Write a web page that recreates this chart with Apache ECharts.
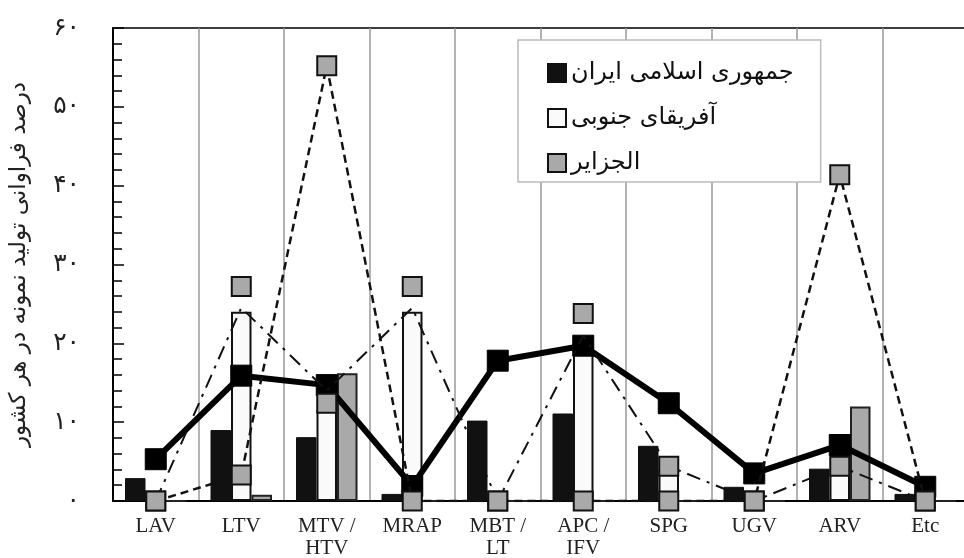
<!DOCTYPE html>
<html>
<head>
<meta charset="utf-8">
<script src="https://cdn.jsdelivr.net/npm/echarts@6/dist/echarts.min.js"></script>
<style>html,body{margin:0;padding:0;background:#fff;}#c{width:964px;height:558px;}</style>
</head>
<body>
<div id="c"></div>
<script>
const categories = ['LAV', 'LTV', 'MTV /\nHTV', 'MRAP', 'MBT /\nLT', 'APC /\nIFV', 'SPG', 'UGV', 'ARV', 'Etc'];
const seriesNames = ['جمهوری اسلامی ایران', 'آفریقای جنوبی', 'الجزایر'];
const iranBars = [2.9, 9.0, 8.1, 0.9, 10.2, 11.1, 7.0, 1.8, 4.1, 0.9];
const southAfricaBars = [0, 24.0, 11.5, 24.0, 0, 20.0, 4.0, 0, 4.0, 0];
const algeriaBars = [0, 0.8, 16.2, 0, 0, 0, 0, 0, 12.0, 0];
const iranLine = [5.3, 15.9, 14.7, 1.9, 17.8, 19.7, 12.4, 3.5, 7.1, 1.8];
const southAfricaLine = [0, 24.5, 14, 24.5, 0, 21, 4.4, 0, 4.4, 0];
const southAfricaMarks = [0, 27.2, 12.4, 27.2, 0, 23.8, 4.4, 0, 4.4, 0];
const algeriaLine = [0, 3.3, 55.2, 0, 0, 0, 0, 0, 41.4, 0];
const yTicks = [0, 10, 20, 30, 40, 50, 60];
const yAxisTitle = 'درصد فراوانی تولید نمونه در هر کشور';

const faDigits = '۰۱۲۳۴۵۶۷۸۹';
const toFa = v => String(v).replace(/[0-9]/g, d => faDigits[+d]);

const chart = echarts.init(document.getElementById('c'), null, {renderer: 'canvas'});
const grayFill = '#a9a9a9';
chart.setOption({
  animation: false,
  backgroundColor: '#fff',
  grid: {left: 113, top: 28, right: -4, bottom: 57, show: true, borderColor: '#000', borderWidth: 1.5,
         containLabel: false, outerBoundsMode: 'none'},
  legend: {
    data: seriesNames,
    orient: 'vertical',
    left: 518, top: 40,
    padding: [21, 27, 7, 29],
    itemGap: 21,
    itemWidth: 18, itemHeight: 18,
    backgroundColor: '#fff',
    borderColor: '#bbb', borderWidth: 1.5,
    icon: 'rect',
    textStyle: {fontFamily: 'DejaVu Sans', fontSize: 24, color: '#111'},
    itemStyle: {borderColor: '#111', borderWidth: 2}
  },
  xAxis: {
    type: 'category',
    data: categories,
    axisLine: {lineStyle: {color: '#000', width: 2}},
    axisTick: {show: false},
    splitLine: {show: true, interval: 0, lineStyle: {color: '#999', width: 1.5}},
    axisLabel: {interval: 0, fontFamily: 'Liberation Serif', fontSize: 21, color: '#222', lineHeight: 22, margin: 14}
  },
  yAxis: {
    type: 'value',
    min: yTicks[0], max: yTicks[yTicks.length - 1], interval: yTicks[1] - yTicks[0],
    name: yAxisTitle,
    nameLocation: 'middle',
    nameRotate: 90,
    nameGap: 82,
    nameTextStyle: {fontFamily: 'DejaVu Sans', fontSize: 23, color: '#222'},
    axisLine: {show: true, lineStyle: {color: '#000', width: 2}},
    axisTick: {show: true, inside: true, length: 11, lineStyle: {color: '#000', width: 1.5}},
    minorTick: {show: true, splitNumber: 5, length: 9, lineStyle: {color: '#000', width: 1.5}},
    splitLine: {show: false},
    axisLabel: {formatter: v => toFa(v), fontFamily: 'DejaVu Sans', fontSize: 25, color: '#222', margin: 33}
  },
  series: [
    {name: seriesNames[0], type: 'bar', data: iranBars, barWidth: 20.5, barGap: '0%', z: 2,
     itemStyle: {color: '#111', borderColor: '#111', borderWidth: 1}},
    {name: seriesNames[1], type: 'bar', data: southAfricaBars, barWidth: 20.5, barGap: '0%', z: 2,
     itemStyle: {color: '#fafafa', borderColor: '#111', borderWidth: 2}},
    {name: seriesNames[2], type: 'bar', data: algeriaBars, barWidth: 20.5, barGap: '0%', z: 2,
     itemStyle: {color: grayFill, borderColor: '#222', borderWidth: 2}},
    {name: 'iranLine', type: 'line', data: iranLine, z: 3,
     symbol: 'rect', symbolSize: 21, showAllSymbol: true,
     lineStyle: {color: '#000', width: 6},
     itemStyle: {color: '#000', borderColor: '#000', borderWidth: 1}},
    {name: 'saLine', type: 'line', data: southAfricaLine, z: 4,
     symbol: 'none',
     lineStyle: {color: '#111', width: 2, type: [14, 7, 3, 7]}},
    {name: 'algLine', type: 'line', data: algeriaLine, z: 5,
     symbol: 'rect', symbolSize: 19, showAllSymbol: true,
     lineStyle: {color: '#111', width: 2.5, type: [8, 5]},
     itemStyle: {color: grayFill, borderColor: '#111', borderWidth: 2}},
    {name: 'saMarks', type: 'scatter', data: southAfricaMarks, z: 6,
     symbol: 'rect', symbolSize: 19,
     itemStyle: {color: grayFill, borderColor: '#111', borderWidth: 2, opacity: 1}}
  ]
});
</script>
</body>
</html>
